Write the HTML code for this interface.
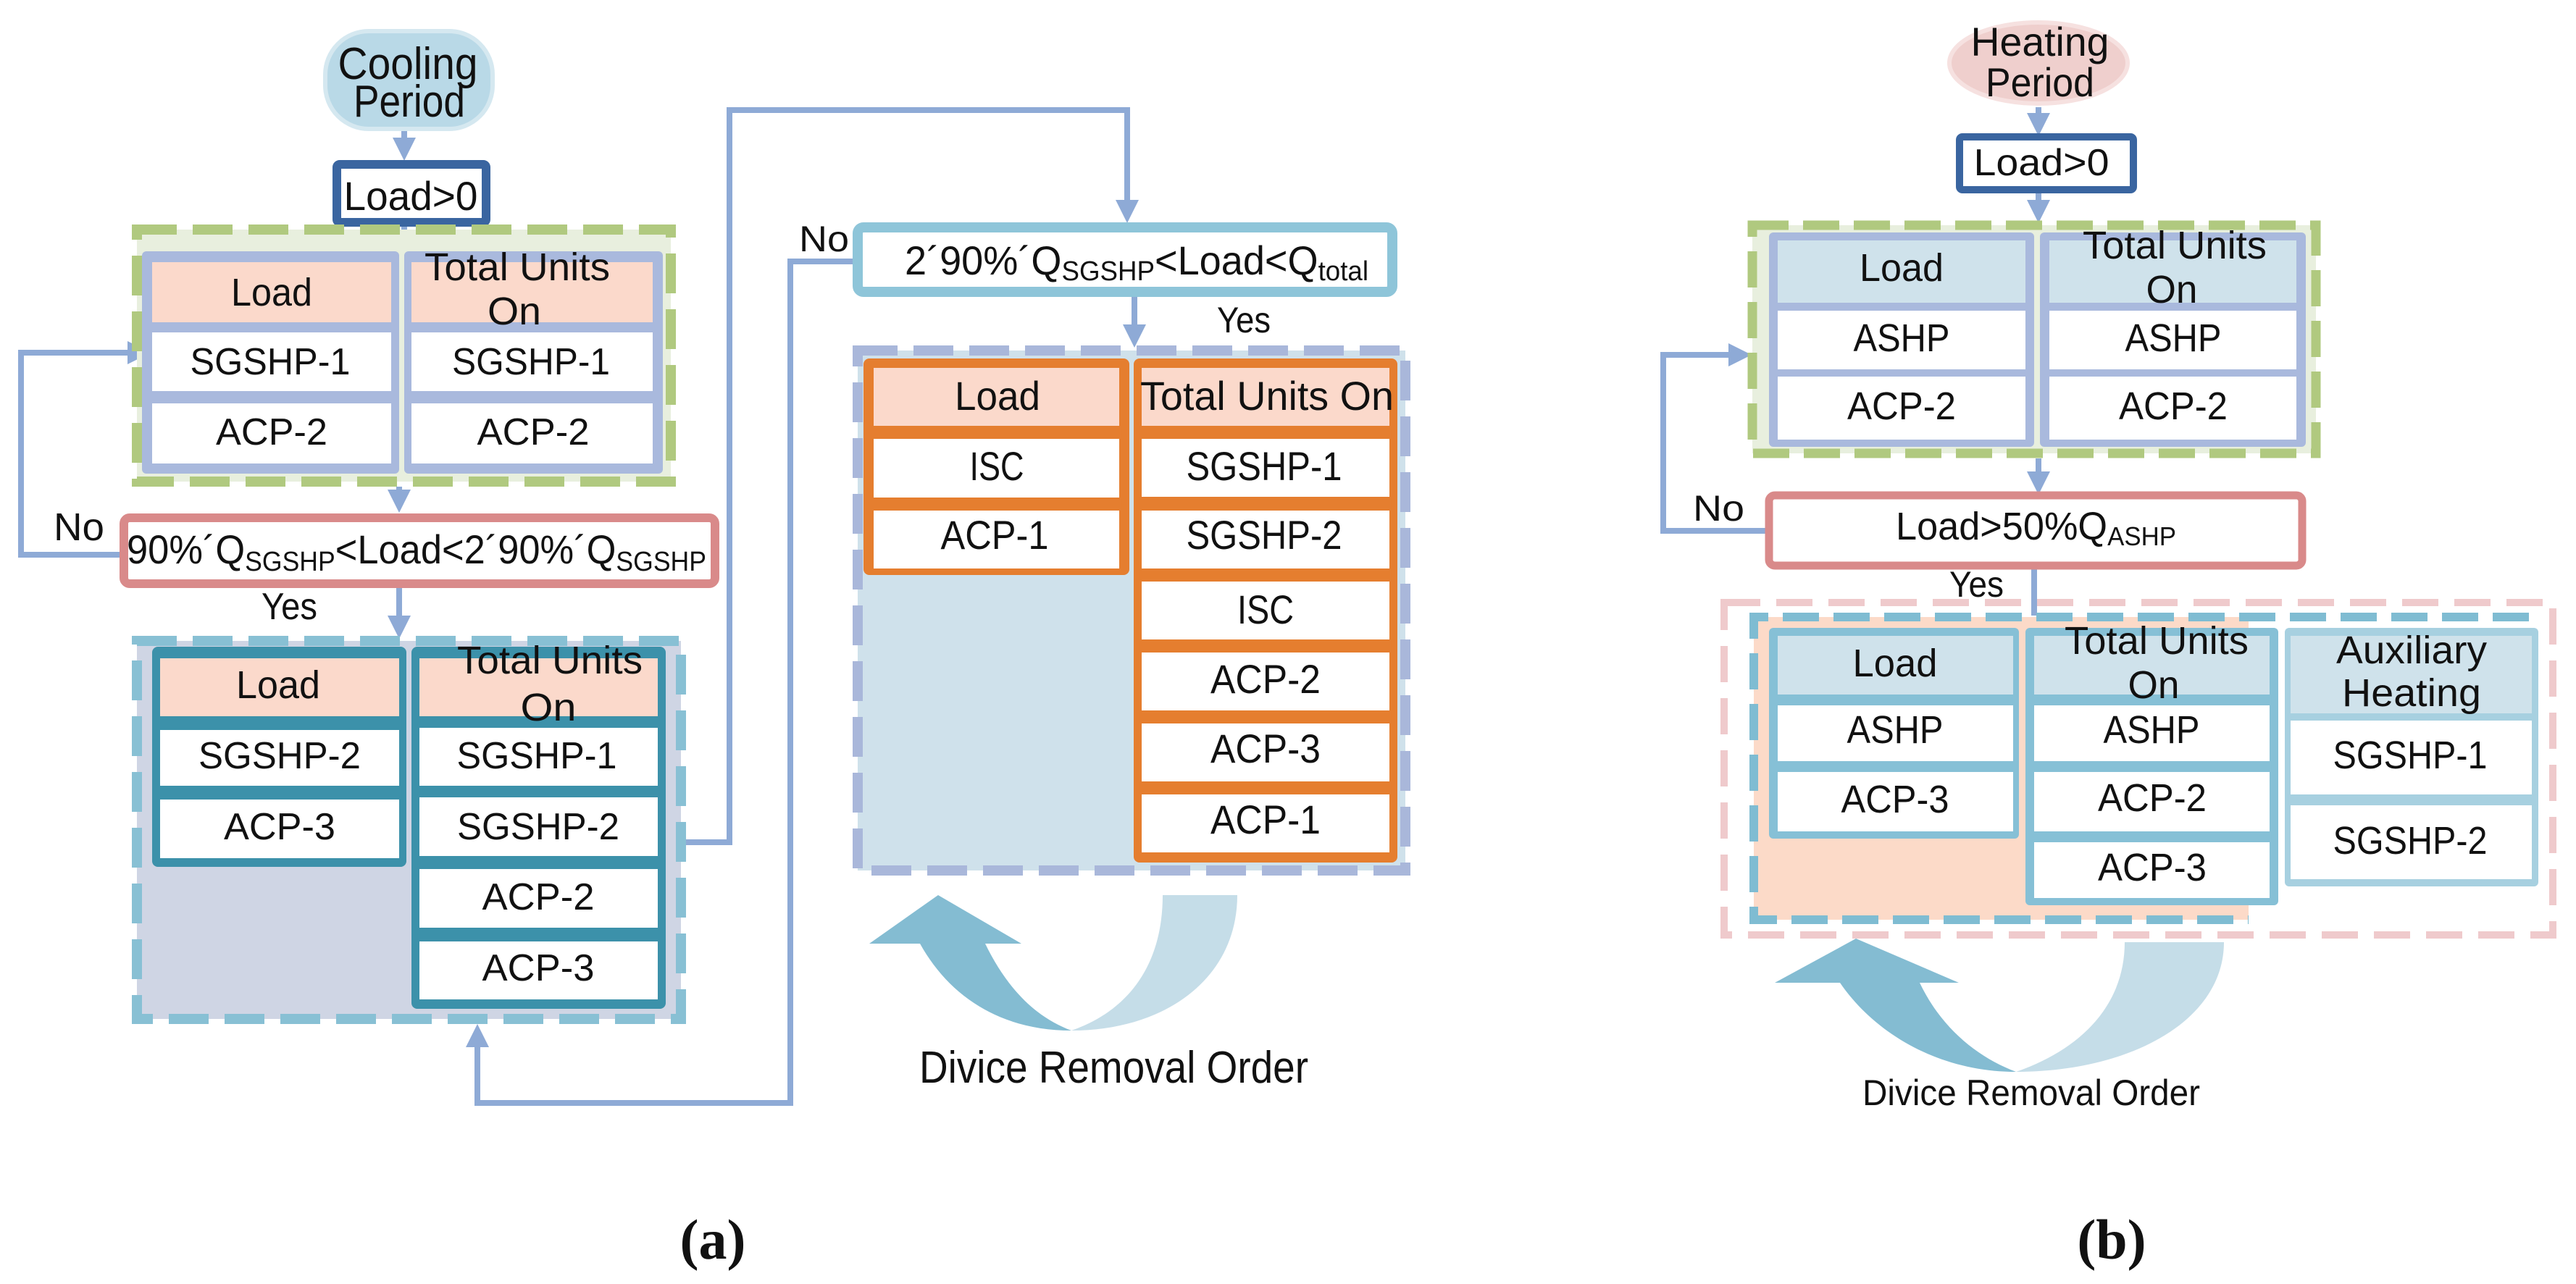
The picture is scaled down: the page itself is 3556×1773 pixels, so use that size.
<!DOCTYPE html>
<html><head><meta charset="utf-8"><style>
html,body{margin:0;padding:0;background:#fff}
svg{display:block}
text{font-family:"Liberation Sans",sans-serif;fill:#111}
</style></head><body>
<svg width="3556" height="1773" viewBox="0 0 3556 1773" xmlns="http://www.w3.org/2000/svg">
<defs>
<marker id="ah" markerWidth="4" markerHeight="4" refX="3" refY="2" orient="auto" markerUnits="strokeWidth">
<path d="M0,0 L4,2 L0,4 Z" fill="#8eaad6"/></marker>
</defs>
<g fill="none" stroke="#8eaad6" stroke-width="8">
<path d="M558,178 L558,214" marker-end="url(#ah)"/>
<path d="M558,313 L558,332"/>
<path d="M551,672 L551,700" marker-end="url(#ah)"/>
<path d="M551,812 L551,874" marker-end="url(#ah)"/>
<path d="M165,766 L29,766 L29,487 L200,487" marker-end="url(#ah)"/>
<path d="M947,1163 L1007,1163 L1007,152 L1556,152 L1556,300" marker-end="url(#ah)"/>
<path d="M1177,361 L1091,361 L1091,1523 L659,1523 L659,1422" marker-end="url(#ah)"/>
<path d="M1566,410 L1566,472" marker-end="url(#ah)"/>
<path d="M2814,148 L2814,180" marker-end="url(#ah)"/>
<path d="M2814,267 L2814,300" marker-end="url(#ah)"/>
<path d="M2814,633 L2814,675" marker-end="url(#ah)"/>
<path d="M2808,786 L2808,850"/>
<path d="M2437,733 L2296,733 L2296,490 L2410,490" marker-end="url(#ah)"/>
</g>

<rect x="449" y="43" width="231" height="135" rx="60" fill="#b9d9e7" stroke="#d5e8f0" stroke-width="6"/>
<text x="563" y="109" font-size="62" text-anchor="middle" textLength="193" lengthAdjust="spacingAndGlyphs" fill="#333">Cooling</text>
<text x="565" y="161" font-size="62" text-anchor="middle" textLength="154" lengthAdjust="spacingAndGlyphs" fill="#333">Period</text>

<rect x="465" y="227" width="206" height="80" fill="#fff" stroke="#3a65a0" stroke-width="12" rx="4"/>
<text x="567" y="290" font-size="56" text-anchor="middle" textLength="185" lengthAdjust="spacingAndGlyphs">Load&gt;0</text>

<rect x="189" y="317" width="737" height="348" fill="#e8efde" stroke="#b0c97f" stroke-width="14" stroke-dasharray="55 22"/>
<rect x="196" y="347" width="355" height="307" rx="6" fill="#a9b9dd"/>
<rect x="558" y="347" width="357" height="307" rx="6" fill="#a9b9dd"/>
<rect x="210" y="362" width="330" height="83" fill="#fbd9cb"/>
<rect x="210" y="459" width="330" height="81" fill="#fff"/>
<rect x="210" y="557" width="330" height="83" fill="#fff"/>
<rect x="568" y="362" width="333" height="83" fill="#fbd9cb"/>
<rect x="568" y="459" width="333" height="81" fill="#fff"/>
<rect x="568" y="557" width="333" height="83" fill="#fff"/>
<text x="375" y="422" font-size="54" text-anchor="middle" textLength="112" lengthAdjust="spacingAndGlyphs">Load</text>
<text x="714" y="387" font-size="54" text-anchor="middle" textLength="256" lengthAdjust="spacingAndGlyphs">Total Units</text>
<text x="710" y="448" font-size="54" text-anchor="middle" textLength="74" lengthAdjust="spacingAndGlyphs">On</text>
<text x="373" y="517" font-size="52" text-anchor="middle" textLength="221" lengthAdjust="spacingAndGlyphs">SGSHP-1</text>
<text x="733" y="517" font-size="52" text-anchor="middle" textLength="218" lengthAdjust="spacingAndGlyphs">SGSHP-1</text>
<text x="375" y="614" font-size="52" text-anchor="middle" textLength="154" lengthAdjust="spacingAndGlyphs">ACP-2</text>
<text x="736" y="614" font-size="52" text-anchor="middle" textLength="155" lengthAdjust="spacingAndGlyphs">ACP-2</text>

<rect x="171" y="715" width="816" height="91" rx="8" fill="#fff" stroke="#d98a8a" stroke-width="12"/>
<text x="175" y="778" font-size="56" textLength="800" lengthAdjust="spacingAndGlyphs">90%´Q<tspan font-size="38" dy="10">SGSHP</tspan><tspan dy="-10">&lt;Load&lt;2´90%´Q</tspan><tspan font-size="38" dy="10">SGSHP</tspan></text>
<text x="74" y="746" font-size="54" textLength="70" lengthAdjust="spacingAndGlyphs">No</text>
<text x="361" y="855" font-size="52" textLength="77" lengthAdjust="spacingAndGlyphs" fill="#333">Yes</text>

<rect x="189" y="885" width="751" height="522" fill="#cfd5e4" stroke="#88c0d4" stroke-width="14" stroke-dasharray="55 22"/>
<rect x="210" y="893" width="351" height="304" rx="8" fill="#3c91aa"/>
<rect x="568" y="893" width="351" height="500" rx="8" fill="#3c91aa"/>
<rect x="221" y="909" width="330" height="80" fill="#fbd9cb"/>
<rect x="221" y="1008" width="330" height="77" fill="#fff"/>
<rect x="221" y="1104" width="330" height="81" fill="#fff"/>
<rect x="579" y="909" width="329" height="80" fill="#fbd9cb"/>
<rect x="579" y="1005" width="329" height="80" fill="#fff"/>
<rect x="579" y="1101" width="329" height="81" fill="#fff"/>
<rect x="579" y="1200" width="329" height="81" fill="#fff"/>
<rect x="579" y="1300" width="329" height="80" fill="#fff"/>
<text x="384" y="964" font-size="54" text-anchor="middle" textLength="116" lengthAdjust="spacingAndGlyphs">Load</text>
<text x="759" y="930" font-size="54" text-anchor="middle" textLength="256" lengthAdjust="spacingAndGlyphs">Total Units</text>
<text x="757" y="995" font-size="54" text-anchor="middle" textLength="77" lengthAdjust="spacingAndGlyphs">On</text>
<text x="386" y="1061" font-size="52" text-anchor="middle" textLength="224" lengthAdjust="spacingAndGlyphs">SGSHP-2</text>
<text x="386" y="1159" font-size="52" text-anchor="middle" textLength="154" lengthAdjust="spacingAndGlyphs">ACP-3</text>
<text x="741" y="1061" font-size="52" text-anchor="middle" textLength="221" lengthAdjust="spacingAndGlyphs">SGSHP-1</text>
<text x="743" y="1159" font-size="52" text-anchor="middle" textLength="224" lengthAdjust="spacingAndGlyphs">SGSHP-2</text>
<text x="743" y="1256" font-size="52" text-anchor="middle" textLength="155" lengthAdjust="spacingAndGlyphs">ACP-2</text>
<text x="743" y="1354" font-size="52" text-anchor="middle" textLength="155" lengthAdjust="spacingAndGlyphs">ACP-3</text>

<rect x="1184" y="314" width="738" height="89" rx="8" fill="#fff" stroke="#8ec5d9" stroke-width="14"/>
<text x="1249" y="379" font-size="56" textLength="640" lengthAdjust="spacingAndGlyphs">2´90%´Q<tspan font-size="38" dy="8">SGSHP</tspan><tspan dy="-8">&lt;Load&lt;Q</tspan><tspan font-size="38" dy="8">total</tspan></text>
<text x="1103" y="347" font-size="50" textLength="69" lengthAdjust="spacingAndGlyphs">No</text>
<text x="1680" y="459" font-size="50" textLength="74" lengthAdjust="spacingAndGlyphs" fill="#333">Yes</text>

<rect x="1184" y="484" width="756" height="718" fill="#cfe1eb" stroke="#a9b7da" stroke-width="14" stroke-dasharray="55 22"/>
<rect x="1192" y="495" width="367" height="299" rx="8" fill="#e57e2f"/>
<rect x="1565" y="495" width="364" height="696" rx="8" fill="#e57e2f"/>
<rect x="1206" y="508" width="339" height="80" fill="#fbd9cb"/>
<rect x="1206" y="606" width="339" height="81" fill="#fff"/>
<rect x="1206" y="705" width="339" height="80" fill="#fff"/>
<rect x="1576" y="508" width="342" height="80" fill="#fbd9cb"/>
<rect x="1576" y="606" width="342" height="80" fill="#fff"/>
<rect x="1576" y="705" width="342" height="80" fill="#fff"/>
<rect x="1576" y="803" width="342" height="80" fill="#fff"/>
<rect x="1576" y="901" width="342" height="80" fill="#fff"/>
<rect x="1576" y="999" width="342" height="80" fill="#fff"/>
<rect x="1576" y="1097" width="342" height="80" fill="#fff"/>
<text x="1377" y="566" font-size="56" text-anchor="middle" textLength="118" lengthAdjust="spacingAndGlyphs">Load</text>
<text x="1376" y="663" font-size="56" text-anchor="middle" textLength="75" lengthAdjust="spacingAndGlyphs">ISC</text>
<text x="1373" y="758" font-size="56" text-anchor="middle" textLength="149" lengthAdjust="spacingAndGlyphs">ACP-1</text>
<text x="1749" y="566" font-size="56" text-anchor="middle" textLength="350" lengthAdjust="spacingAndGlyphs">Total Units On</text>
<text x="1745" y="663" font-size="56" text-anchor="middle" textLength="215" lengthAdjust="spacingAndGlyphs">SGSHP-1</text>
<text x="1745" y="758" font-size="56" text-anchor="middle" textLength="215" lengthAdjust="spacingAndGlyphs">SGSHP-2</text>
<text x="1747" y="861" font-size="56" text-anchor="middle" textLength="78" lengthAdjust="spacingAndGlyphs">ISC</text>
<text x="1747" y="957" font-size="56" text-anchor="middle" textLength="152" lengthAdjust="spacingAndGlyphs">ACP-2</text>
<text x="1747" y="1053" font-size="56" text-anchor="middle" textLength="152" lengthAdjust="spacingAndGlyphs">ACP-3</text>
<text x="1747" y="1151" font-size="56" text-anchor="middle" textLength="152" lengthAdjust="spacingAndGlyphs">ACP-1</text>

<path d="M1605,1236 L1708,1236 C1708,1350 1610,1423 1479,1423 C1560,1395 1605,1330 1605,1236 Z" fill="#c5dde8"/>
<path d="M1479,1423 C1380,1423 1310,1375 1270,1303 L1200,1303 L1295,1236 L1410,1303 L1360,1303 C1390,1365 1430,1405 1479,1423 Z" fill="#84bcd2"/>
<text x="1269" y="1495" font-size="62" textLength="537" lengthAdjust="spacingAndGlyphs" fill="#444">Divice Removal Order</text>

<text x="984" y="1738" font-size="78" font-weight="bold" text-anchor="middle" style="font-family:'Liberation Serif',serif">(a)</text>

<ellipse cx="2814" cy="87" rx="123" ry="56" fill="#efcfcd" stroke="#f6e1e0" stroke-width="6"/>
<text x="2816" y="77" font-size="56" text-anchor="middle" textLength="191" lengthAdjust="spacingAndGlyphs" fill="#333">Heating</text>
<text x="2816" y="133" font-size="56" text-anchor="middle" textLength="150" lengthAdjust="spacingAndGlyphs" fill="#333">Period</text>

<rect x="2705" y="189" width="240" height="73" rx="4" fill="#fff" stroke="#3a65a0" stroke-width="10"/>
<text x="2818" y="242" font-size="52" text-anchor="middle" textLength="187" lengthAdjust="spacingAndGlyphs">Load&gt;0</text>

<rect x="2419" y="311" width="778" height="315" fill="#e8efde" stroke="#b0c97f" stroke-width="13" stroke-dasharray="50 20"/>
<rect x="2442" y="321" width="366" height="296" rx="6" fill="#a9b9dd"/>
<rect x="2816" y="321" width="367" height="296" rx="6" fill="#a9b9dd"/>
<rect x="2454" y="332" width="342" height="86" fill="#cfe2eb"/>
<rect x="2454" y="429" width="342" height="81" fill="#fff"/>
<rect x="2454" y="520" width="342" height="87" fill="#fff"/>
<rect x="2829" y="332" width="341" height="86" fill="#cfe2eb"/>
<rect x="2829" y="429" width="341" height="81" fill="#fff"/>
<rect x="2829" y="520" width="341" height="87" fill="#fff"/>
<text x="2625" y="388" font-size="54" text-anchor="middle" textLength="116" lengthAdjust="spacingAndGlyphs">Load</text>
<text x="3002" y="357" font-size="54" text-anchor="middle" textLength="254" lengthAdjust="spacingAndGlyphs">Total Units</text>
<text x="2998" y="418" font-size="54" text-anchor="middle" textLength="71" lengthAdjust="spacingAndGlyphs">On</text>
<text x="2625" y="485" font-size="54" text-anchor="middle" textLength="133" lengthAdjust="spacingAndGlyphs">ASHP</text>
<text x="3000" y="485" font-size="54" text-anchor="middle" textLength="133" lengthAdjust="spacingAndGlyphs">ASHP</text>
<text x="2625" y="579" font-size="54" text-anchor="middle" textLength="150" lengthAdjust="spacingAndGlyphs">ACP-2</text>
<text x="3000" y="579" font-size="54" text-anchor="middle" textLength="150" lengthAdjust="spacingAndGlyphs">ACP-2</text>

<rect x="2442" y="684" width="736" height="97" rx="8" fill="#fff" stroke="#d98a8a" stroke-width="11"/>
<text x="2617" y="745" font-size="54" textLength="387" lengthAdjust="spacingAndGlyphs">Load&gt;50%Q<tspan font-size="36" dy="8">ASHP</tspan></text>
<text x="2337" y="719" font-size="50" textLength="71" lengthAdjust="spacingAndGlyphs" fill="#333">No</text>
<text x="2691" y="824" font-size="50" textLength="75" lengthAdjust="spacingAndGlyphs" fill="#333">Yes</text>

<rect x="2380" y="832" width="1144" height="459" fill="none" stroke="#efcacc" stroke-width="10" stroke-dasharray="50 22"/>
<rect x="2421" y="852" width="683" height="418" fill="#fcdac8"/>
<path d="M3491,852 L2421,852 L2421,1270 L3104,1270" fill="none" stroke="#7fbcd2" stroke-width="12" stroke-dasharray="50 20"/>
<rect x="2442" y="867" width="345" height="291" rx="6" fill="#86c0d6"/>
<rect x="2796" y="867" width="349" height="383" rx="6" fill="#86c0d6"/>
<rect x="3154" y="867" width="350" height="357" rx="6" fill="#a7d0e0"/>
<rect x="2454" y="878" width="325" height="81" fill="#cfe2eb"/>
<rect x="2454" y="974" width="325" height="77" fill="#fff"/>
<rect x="2454" y="1066" width="325" height="82" fill="#fff"/>
<rect x="2808" y="878" width="325" height="81" fill="#cfe2eb"/>
<rect x="2808" y="974" width="325" height="77" fill="#fff"/>
<rect x="2808" y="1066" width="325" height="82" fill="#fff"/>
<rect x="2808" y="1163" width="325" height="77" fill="#fff"/>
<rect x="3162" y="878" width="333" height="107" fill="#cfe2eb"/>
<rect x="3162" y="995" width="333" height="102" fill="#fff"/>
<rect x="3162" y="1112" width="333" height="102" fill="#fff"/>
<text x="2616" y="934" font-size="54" text-anchor="middle" textLength="117" lengthAdjust="spacingAndGlyphs">Load</text>
<text x="2616" y="1026" font-size="54" text-anchor="middle" textLength="133" lengthAdjust="spacingAndGlyphs">ASHP</text>
<text x="2616" y="1122" font-size="54" text-anchor="middle" textLength="149" lengthAdjust="spacingAndGlyphs">ACP-3</text>
<text x="2977" y="903" font-size="54" text-anchor="middle" textLength="254" lengthAdjust="spacingAndGlyphs">Total Units</text>
<text x="2973" y="964" font-size="54" text-anchor="middle" textLength="71" lengthAdjust="spacingAndGlyphs">On</text>
<text x="2970" y="1026" font-size="54" text-anchor="middle" textLength="133" lengthAdjust="spacingAndGlyphs">ASHP</text>
<text x="2971" y="1120" font-size="54" text-anchor="middle" textLength="150" lengthAdjust="spacingAndGlyphs">ACP-2</text>
<text x="2971" y="1216" font-size="54" text-anchor="middle" textLength="150" lengthAdjust="spacingAndGlyphs">ACP-3</text>
<text x="3329" y="916" font-size="54" text-anchor="middle" textLength="208" lengthAdjust="spacingAndGlyphs">Auxiliary</text>
<text x="3329" y="975" font-size="54" text-anchor="middle" textLength="192" lengthAdjust="spacingAndGlyphs">Heating</text>
<text x="3327" y="1061" font-size="54" text-anchor="middle" textLength="213" lengthAdjust="spacingAndGlyphs">SGSHP-1</text>
<text x="3327" y="1179" font-size="54" text-anchor="middle" textLength="213" lengthAdjust="spacingAndGlyphs">SGSHP-2</text>

<path d="M2933,1301 L3070,1301 C3070,1410 2940,1480 2783,1480 C2870,1450 2933,1390 2933,1301 Z" fill="#c5dde8"/>
<path d="M2783,1480 C2680,1480 2590,1430 2540,1357 L2450,1357 L2562,1296 L2704,1357 L2650,1357 C2680,1420 2730,1460 2783,1480 Z" fill="#84bcd2"/>
<text x="2571" y="1526" font-size="50" textLength="466" lengthAdjust="spacingAndGlyphs" fill="#444">Divice Removal Order</text>

<text x="2915" y="1738" font-size="78" font-weight="bold" text-anchor="middle" style="font-family:'Liberation Serif',serif">(b)</text>
</svg>
</body></html>
